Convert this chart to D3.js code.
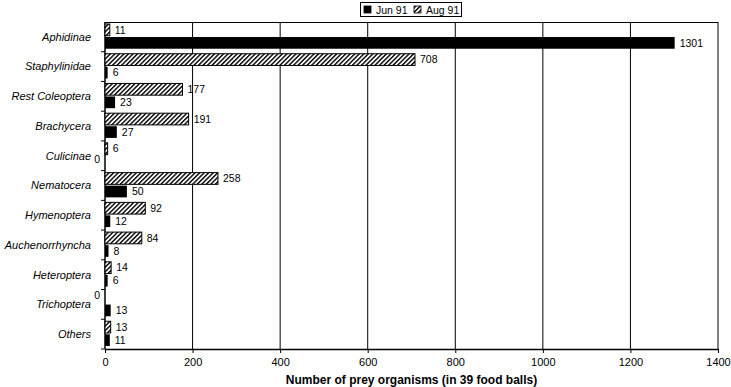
<!DOCTYPE html>
<html>
<head>
<meta charset="utf-8">
<script src="https://cdn.jsdelivr.net/npm/d3@7"></script>
<style>
  body { margin: 0; background: #fff; }
  text { font-family: "Liberation Sans", Arial, Helvetica, sans-serif; fill: #000; }
</style>
</head>
<body>
<div id="chart-area"></div>
<script>
var categories = ["Aphidinae", "Staphylinidae", "Rest Coleoptera", "Brachycera", "Culicinae",
    "Nematocera", "Hymenoptera", "Auchenorrhyncha", "Heteroptera", "Trichoptera", "Others"];
var aug91 = [11, 708, 177, 191, 6, 258, 92, 84, 14, 0, 13];
var jun91 = [1301, 6, 23, 27, 0, 50, 12, 8, 6, 13, 11];
var xTicks = [0, 200, 400, 600, 800, 1000, 1200, 1400];
var series = ["Aug 91", "Jun 91"];

var margin = { left: 105, right: 13, top: 22, bottom: 38 };
var width = 731 - margin.left - margin.right,
    height = 387 - margin.top - margin.bottom;

var svg = d3.select("#chart-area")
    .append("svg")
        .attr("width", 731)
        .attr("height", 387);

// hatch pattern for Aug 91
var defs = svg.append("defs");
var pat = defs.append("pattern")
    .attr("id", "hatch")
    .attr("patternUnits", "userSpaceOnUse")
    .attr("width", 3.2)
    .attr("height", 3.2)
    .attr("patternTransform", "rotate(45)");
pat.append("rect").attr("width", 3.2).attr("height", 3.2).attr("fill", "#fff");
pat.append("rect").attr("width", 1.4).attr("height", 3.2).attr("fill", "#000");

var g = svg.append("g")
    .attr("transform", "translate(" + margin.left + ", " + margin.top + ")");

// Scales
var x = d3.scaleLinear()
    .domain([0, 1400])
    .range([0, width]);

var y = d3.scaleBand()
    .domain(categories)
    .range([0, height]);

var y1 = d3.scaleBand()
    .domain(series)
    .range([2, y.bandwidth() - 3])
    .paddingInner(0.1);

// Gridlines
g.selectAll(".grid")
    .data(xTicks.slice(1))
    .enter().append("line")
        .attr("x1", function(d){ return x(d); })
        .attr("x2", function(d){ return x(d); })
        .attr("y1", 0)
        .attr("y2", height)
        .attr("stroke", "#000")
        .attr("stroke-width", 1);

// top border
g.append("line")
    .attr("x1", 0).attr("x2", width)
    .attr("y1", 0.5).attr("y2", 0.5)
    .attr("stroke", "#000");

// X Axis
var xAxisCall = d3.axisBottom(x)
    .tickValues(xTicks)
    .tickSize(4)
    .tickSizeOuter(0)
    .tickFormat(d3.format("d"));
var xAxisGroup = g.append("g")
    .attr("transform", "translate(0," + height + ")")
    .call(xAxisCall);
xAxisGroup.select(".domain").attr("stroke-width", 1.5);
xAxisGroup.selectAll("text").attr("font-size", "11px").attr("dy", "0.9em");

// Y Axis (ticks between categories)
var yAxisGroup = g.append("g");
yAxisGroup.append("line")
    .attr("x1", 0).attr("x2", 0)
    .attr("y1", 0).attr("y2", height)
    .attr("stroke", "#000")
    .attr("stroke-width", 1.5);
yAxisGroup.selectAll(".ytick")
    .data(categories)
    .enter().append("line")
        .attr("x1", -4).attr("x2", 0)
        .attr("y1", function(d){ return y(d) + y.bandwidth(); })
        .attr("y2", function(d){ return y(d) + y.bandwidth(); })
        .attr("stroke", "#000");
yAxisGroup.selectAll(".ylabel")
    .data(categories)
    .enter().append("text")
        .attr("x", -14)
        .attr("y", function(d){ return y(d) + y.bandwidth() / 2; })
        .attr("dy", "0.35em")
        .attr("text-anchor", "end")
        .attr("font-size", "11px")
        .attr("font-style", "italic")
        .text(function(d){ return d; });

// Bars
var rows = categories.map(function(c, i) {
    return [
        { cat: c, s: "Aug 91", v: aug91[i] },
        { cat: c, s: "Jun 91", v: jun91[i] }
    ];
});
var flat = [].concat.apply([], rows);

g.selectAll(".bar")
    .data(flat.filter(function(d){ return d.v > 0; }))
    .enter().append("rect")
        .attr("x", 0)
        .attr("y", function(d){ return y(d.cat) + y1(d.s); })
        .attr("width", function(d){ return x(d.v); })
        .attr("height", y1.bandwidth())
        .attr("fill", function(d){ return d.s === "Jun 91" ? "#000" : "url(#hatch)"; })
        .attr("stroke", "#000")
        .attr("stroke-width", function(d){ return d.s === "Jun 91" ? 0 : 1; });

// Value labels
g.selectAll(".val")
    .data(flat)
    .enter().append("text")
        .attr("x", function(d){ return d.v > 0 ? x(d.v) + 5 : -5; })
        .attr("y", function(d){ return y(d.cat) + y1(d.s) + y1.bandwidth() / 2 + (d.v > 0 ? 0 : -2); })
        .attr("dy", "0.35em")
        .attr("text-anchor", function(d){ return d.v > 0 ? "start" : "end"; })
        .attr("font-size", "10.5px")
        .text(function(d){ return d.v; });

// X Label
g.append("text")
    .attr("x", width / 2)
    .attr("y", height + 35)
    .attr("text-anchor", "middle")
    .attr("font-size", "12px")
    .attr("font-weight", "bold")
    .text("Number of prey organisms (in 39 food balls)");

// Legend
var legend = svg.append("g").attr("transform", "translate(360, 2)");
legend.append("rect")
    .attr("x", 0.5).attr("y", 0.5)
    .attr("width", 101).attr("height", 14)
    .attr("fill", "#fff").attr("stroke", "#000");
var legItems = [
    { s: "Jun 91", fill: "#000", x: 4 },
    { s: "Aug 91", fill: "url(#hatch)", x: 54 }
];
legItems.forEach(function(d) {
    legend.append("rect")
        .attr("x", d.x).attr("y", 4)
        .attr("width", 7).attr("height", 7)
        .attr("fill", d.fill).attr("stroke", "#000").attr("stroke-width", 0.8);
    legend.append("text")
        .attr("x", d.x + 12).attr("y", 8)
        .attr("dy", "0.35em")
        .attr("font-size", "10.5px")
        .text(d.s);
});
</script>
</body>
</html>
